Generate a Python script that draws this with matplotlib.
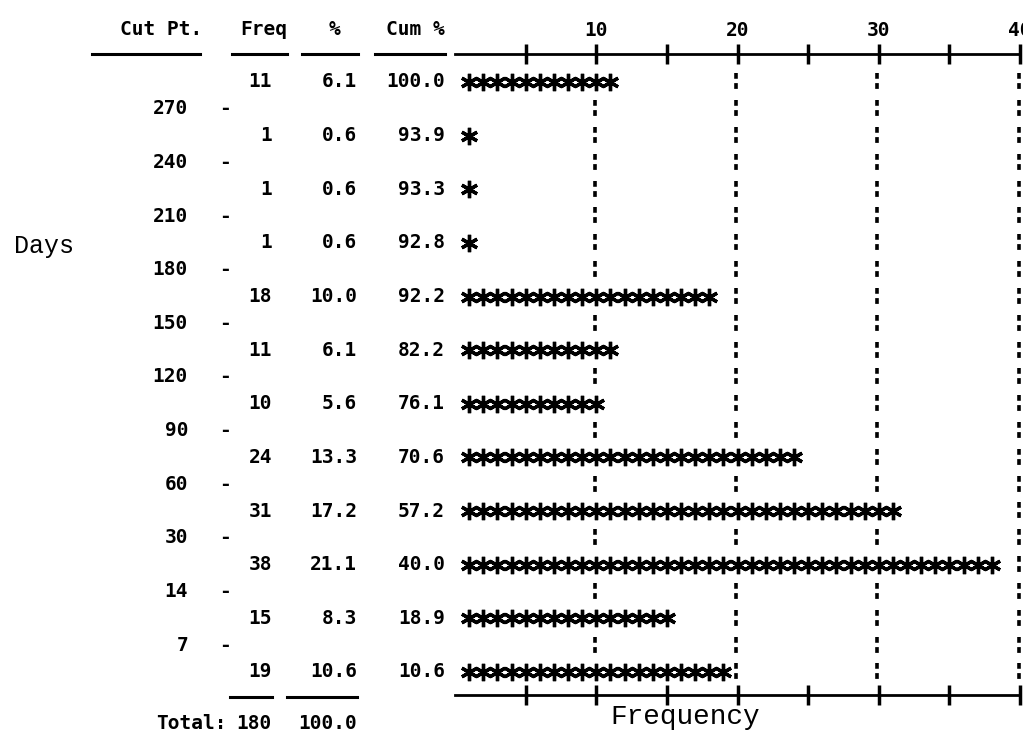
import matplotlib
matplotlib.use('Agg')
import matplotlib.pyplot as plt
import matplotlib.transforms as mtransforms
from matplotlib.lines import Line2D

# histogram table (rows top to bottom)
cut_points = [270, 240, 210, 180, 150, 120, 90, 60, 30, 14, 7]
freq = [11, 1, 1, 1, 18, 11, 10, 24, 31, 38, 15, 19]
pct = [6.1, 0.6, 0.6, 0.6, 10.0, 6.1, 5.6, 13.3, 17.2, 21.1, 8.3, 10.6]
cum_pct = [100.0, 93.9, 93.3, 92.8, 92.2, 82.2, 76.1, 70.6, 57.2, 40.0, 18.9, 10.6]
total_freq = 180
total_pct = 100.0
grid_at = [10, 20, 30, 40]

W, H = 1023, 737
mono = dict(family='DejaVu Sans Mono', fontweight='bold', fontsize=14)

fig = plt.figure(figsize=(W / 100, H / 100), dpi=100)
ax = fig.add_axes([455 / W, 1 - 695 / H, 565 / W, 641 / H])
ax.set_xlim(0, 40)
ax.set_ylim(11.43, -0.522)

# bars drawn as rows of asterisks
for i, f in enumerate(freq):
    ax.plot(range(1, f + 1), [i] * f, ls='none', marker=(6, 2, 0),
            ms=12.5, mew=2.4, color='black')

# short dotted guide marks wherever the bar does not reach
for k in range(2 * len(freq) - 1):
    y = k / 2
    for g in grid_at:
        if k % 2 == 1 or freq[k // 2] < g:
            ax.vlines(g - 0.1, y - 0.16, y + 0.16, colors='black', lw=2.6,
                      linestyles=(0, (1.6, 1.2)), clip_on=False)

for s in ['left', 'right']:
    ax.spines[s].set_visible(False)
for s in ['top', 'bottom']:
    ax.spines[s].set_linewidth(2)
ax.set_yticks([])
ax.set_xticks(grid_at)
ax.set_xticks([5, 15, 25, 35], minor=True)
ax.tick_params(axis='x', which='both', direction='inout', length=14, width=2.5,
               top=True, bottom=True, labeltop=True, labelbottom=False, pad=3)
for lab in ax.get_xticklabels():
    lab.set(**mono)
ax.set_xlabel('Frequency', family='Liberation Mono', fontsize=20, va='center')
ax.xaxis.set_label_coords((685 - 455) / 565, -22 / 641)

# table on the left: x in figure pixels, y in row units
tr = mtransforms.blended_transform_factory(fig.transFigure, ax.transData)
def put(px, y, s, ha='right', **kw):
    opts = dict(mono)
    opts.update(kw)
    ax.text(px / W, y, s, ha=ha, va='center', transform=tr, clip_on=False, **opts)

hy = -0.97
put(202, hy, 'Cut Pt.')
put(287, hy, 'Freq')
put(340, hy, '%')
put(445, hy, 'Cum %')

for i, c in enumerate(cut_points):
    put(188, i + 0.5, str(c))
    put(225, i + 0.5, '-', ha='center')

for i in range(len(freq)):
    put(272, i, str(freq[i]))
    put(357, i, f'{pct[i]:.1f}')
    put(445, i, f'{cum_pct[i]:.1f}')

ty = (724 - 82) / 53.64
put(227, ty, 'Total:')
put(272, ty, str(total_freq))
put(357, ty, f'{total_pct:.1f}')

put(44, 3.05, 'Days', ha='center', family='Liberation Mono', fontweight='normal', fontsize=18)

# rule lines under header and above totals
def rule(x0, x1, ypx):
    fig.add_artist(Line2D([x0 / W, x1 / W], [1 - ypx / H] * 2, color='black', lw=2.2))

for x0, x1 in [(92, 200), (232, 287), (302, 358), (375, 445)]:
    rule(x0, x1, 54)
for x0, x1 in [(230, 272), (287, 357)]:
    rule(x0, x1, 697)

fig.savefig('out.png', dpi=100)
